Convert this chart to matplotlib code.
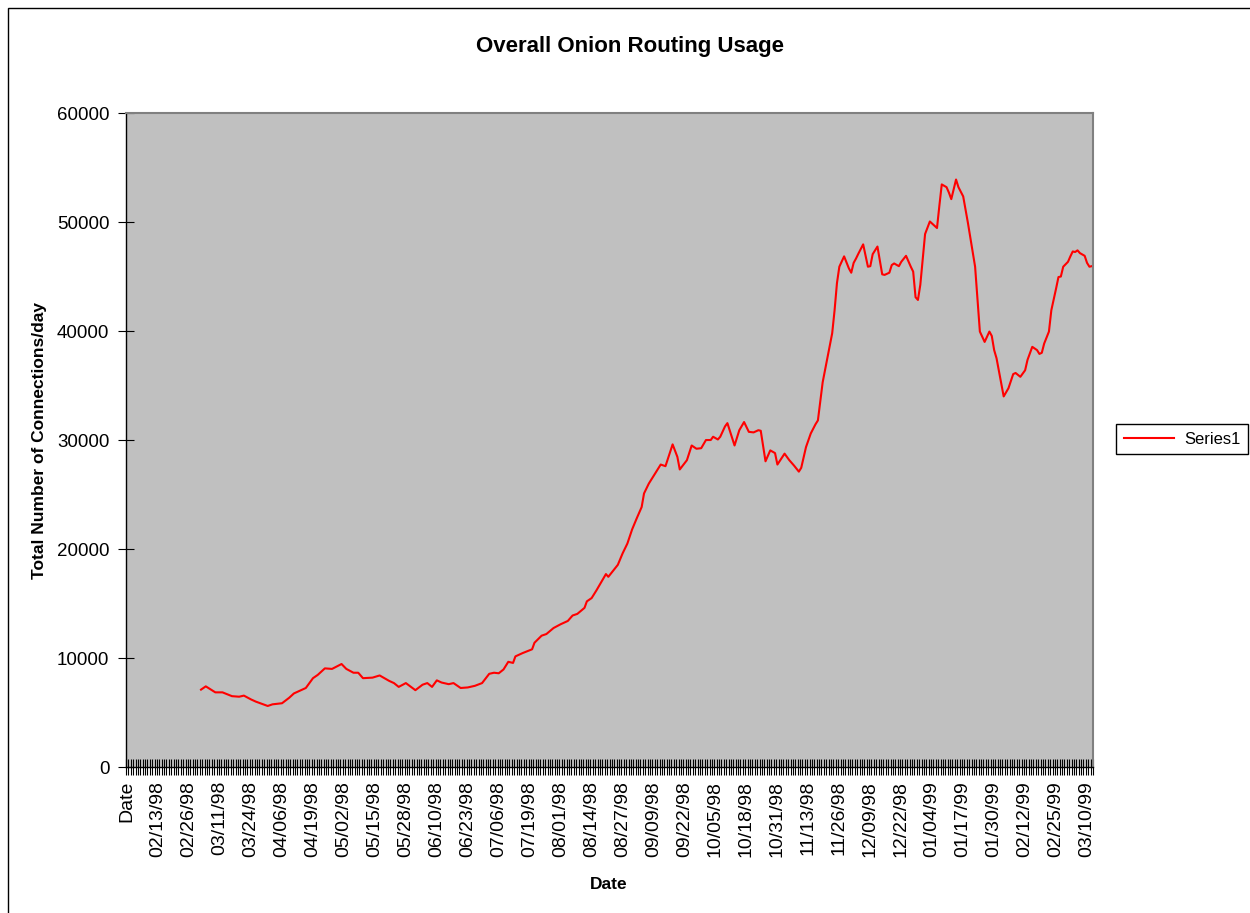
# -----------------------------------------
# Overall Onion Routing Usage (Excel-style line chart)
# -----------------------------------------

import pandas as pd
import matplotlib
matplotlib.use("Agg")
import matplotlib.pyplot as plt
from matplotlib.patches import Rectangle

plt.rcParams['font.family'] = ['Liberation Sans', 'DejaVu Sans']

# -----------------------------------------
# Data
# -----------------------------------------
# category axis: the header cell "Date" followed by one category per day
start = pd.Timestamp("1998-02-01")
n_days = 405
day_labels = ["Date"] + [d.strftime("%m/%d/%y") for d in pd.date_range(start, periods=n_days)]

obs_dates = [
    "03/03/98", "03/05/98", "03/09/98", "03/12/98", "03/16/98", "03/19/98", "03/21/98", "03/24/98",
    "03/26/98", "03/31/98", "04/02/98", "04/06/98", "04/09/98", "04/11/98", "04/14/98", "04/16/98",
    "04/19/98", "04/21/98", "04/24/98", "04/27/98", "05/01/98", "05/03/98", "05/06/98", "05/08/98",
    "05/10/98", "05/14/98", "05/17/98", "05/21/98", "05/23/98", "05/25/98", "05/28/98", "06/01/98",
    "06/04/98", "06/06/98", "06/08/98", "06/10/98", "06/12/98", "06/15/98", "06/17/98", "06/20/98",
    "06/23/98", "06/26/98", "06/29/98", "07/02/98", "07/04/98", "07/06/98", "07/08/98", "07/10/98",
    "07/12/98", "07/13/98", "07/16/98", "07/20/98", "07/21/98", "07/24/98", "07/26/98", "07/29/98",
    "08/01/98", "08/04/98", "08/06/98", "08/08/98", "08/11/98", "08/12/98", "08/14/98", "08/16/98",
    "08/18/98", "08/20/98", "08/21/98", "08/23/98", "08/25/98", "08/27/98", "08/29/98", "08/31/98",
    "09/02/98", "09/04/98", "09/05/98", "09/07/98", "09/09/98", "09/12/98", "09/14/98", "09/17/98",
    "09/19/98", "09/20/98", "09/23/98", "09/25/98", "09/27/98", "09/29/98", "10/01/98", "10/03/98",
    "10/04/98", "10/06/98", "10/07/98", "10/09/98", "10/10/98", "10/13/98", "10/15/98", "10/17/98",
    "10/19/98", "10/21/98", "10/23/98", "10/24/98", "10/26/98", "10/28/98", "10/30/98", "10/31/98",
    "11/03/98", "11/05/98", "11/07/98", "11/09/98", "11/10/98", "11/12/98", "11/14/98", "11/16/98",
    "11/17/98", "11/19/98", "11/22/98", "11/23/98", "11/24/98", "11/25/98", "11/26/98", "11/28/98",
    "11/30/98", "12/01/98", "12/02/98", "12/03/98", "12/04/98", "12/06/98", "12/08/98", "12/09/98",
    "12/10/98", "12/12/98", "12/14/98", "12/15/98", "12/17/98", "12/18/98", "12/19/98", "12/21/98",
    "12/22/98", "12/24/98", "12/26/98", "12/27/98", "12/28/98", "12/29/98", "12/30/98", "01/01/99",
    "01/03/99", "01/06/99", "01/07/99", "01/08/99", "01/10/99", "01/11/99", "01/12/99", "01/14/99",
    "01/15/99", "01/17/99", "01/19/99", "01/22/99", "01/24/99", "01/26/99", "01/28/99", "01/29/99",
    "01/30/99", "01/31/99", "02/03/99", "02/05/99", "02/07/99", "02/08/99", "02/10/99", "02/12/99",
    "02/13/99", "02/15/99", "02/17/99", "02/18/99", "02/19/99", "02/20/99", "02/22/99", "02/23/99",
    "02/25/99", "02/26/99", "02/27/99", "02/28/99", "03/02/99", "03/03/99", "03/04/99", "03/05/99",
    "03/06/99", "03/07/99", "03/09/99", "03/10/99", "03/11/99", "03/12/99",
]

obs_conns = [
    7100, 7400, 6850, 6850, 6500, 6450, 6550, 6200,
    6000, 5600, 5750, 5850, 6350, 6750, 7050, 7250,
    8150, 8450, 9050, 9000, 9450, 9000, 8650, 8650,
    8150, 8200, 8400, 7900, 7700, 7350, 7700, 7050,
    7550, 7700, 7350, 7950, 7750, 7600, 7700, 7250,
    7300, 7450, 7700, 8550, 8650, 8600, 8950, 9650,
    9550, 10150, 10450, 10800, 11400, 12050, 12200, 12750,
    13100, 13400, 13900, 14050, 14600, 15200, 15500, 16200,
    16950, 17700, 17450, 18000, 18550, 19600, 20500, 21800,
    22850, 23850, 25100, 26000, 26700, 27750, 27600, 29600,
    28450, 27300, 28150, 29500, 29200, 29250, 30000, 30000,
    30300, 30050, 30300, 31250, 31550, 29500, 30900, 31650,
    30750, 30700, 30900, 30850, 28050, 29050, 28800, 27750,
    28750, 28150, 27650, 27100, 27450, 29350, 30600, 31450,
    31800, 35300, 38700, 39800, 41900, 44400, 45900, 46850,
    45750, 45350, 46250, 46650, 47100, 47950, 45900, 45950,
    47050, 47750, 45200, 45150, 45350, 46050, 46200, 45950,
    46350, 46900, 45900, 45450, 43100, 42850, 44250, 48900,
    50050, 49450, 51500, 53450, 53200, 52700, 52100, 53900,
    53200, 52350, 49900, 45900, 39950, 39000, 39950, 39550,
    38250, 37500, 34000, 34750, 36050, 36150, 35800, 36400,
    37350, 38550, 38250, 37900, 38000, 38850, 39950, 41900,
    43900, 44950, 45000, 45900, 46350, 46850, 47300, 47250,
    47400, 47150, 46900, 46250, 45900, 45950,
]

# category position of each observation ("Date" is category 0)
x = (pd.to_datetime(obs_dates, format="%m/%d/%y") - start).days + 1

# -----------------------------------------
# Plot
# -----------------------------------------
fig = plt.figure(figsize=(12.5, 9.13), dpi=100)
ax = fig.add_axes([0.1008, 0.1599, 0.7736, 0.7163])
ax.set_facecolor("#c0c0c0")

ax.plot(x, obs_conns, color="#ff0000", lw=1.5, label="Series1")

ax.set_xlim(-0.5, len(day_labels) - 0.5)
ax.set_ylim(0, 60000)
ax.set_yticks(range(0, 60001, 10000))

# label every 13th category, tick mark between every category
label_pos = list(range(0, len(day_labels), 13))
ax.set_xticks(label_pos)
ax.set_xticklabels([day_labels[i] for i in label_pos], rotation=90)
ax.set_xticks([i - 0.5 for i in range(len(day_labels) + 1)], minor=True)
ax.tick_params(axis="x", which="major", length=0, pad=10, labelsize=14)
ax.tick_params(axis="x", which="minor", length=12, direction="inout", width=0.8)
ax.tick_params(axis="y", length=12, direction="inout", labelsize=13.5, pad=6)

for side in ["left", "bottom"]:
    ax.spines[side].set_color("black")
    ax.spines[side].set_linewidth(1)
for side in ["top", "right"]:
    ax.spines[side].set_color("#808080")
    ax.spines[side].set_linewidth(1.5)

fig.text(0.504, 0.9496, "Overall Onion Routing Usage", fontsize=16, weight="bold",
         ha="center", va="center")
fig.text(0.032, 0.518, "Total Number of Connections/day", fontsize=12.5, weight="bold",
         rotation=90, ha="center", va="center")
fig.text(0.487, 0.0307, "Date", fontsize=12.5, weight="bold", ha="center", va="center")

leg = fig.legend(loc="center", bbox_to_anchor=(0.9456, 0.519), fontsize=12,
                 frameon=True, fancybox=False, edgecolor="black", framealpha=1,
                 handlelength=3.0, handletextpad=0.6, borderpad=0.45, borderaxespad=0)
leg.get_frame().set_linewidth(1)

# outer chart border
fig.patches.append(Rectangle((0.0064, -0.01), 1.1, 1.0012, transform=fig.transFigure,
                             fill=False, edgecolor="black", lw=1))

fig.savefig("out.png", dpi=100)
